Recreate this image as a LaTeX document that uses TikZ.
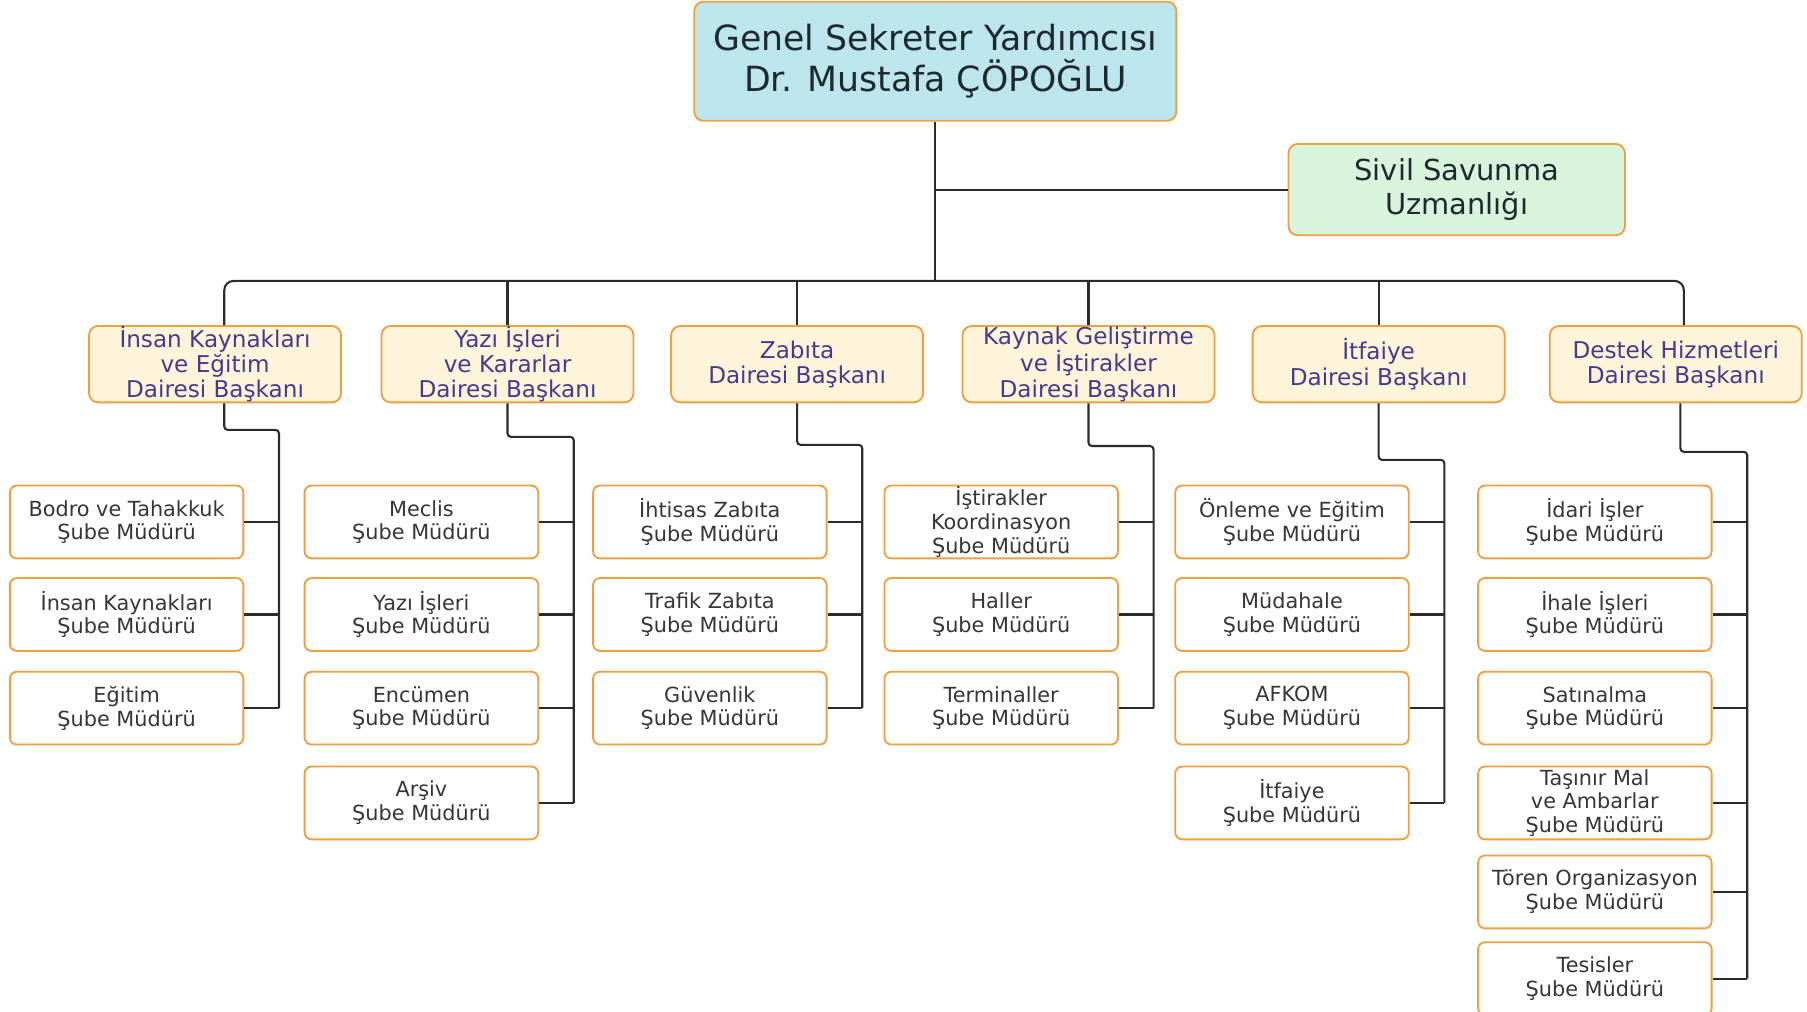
\documentclass[tikz,border=0pt]{standalone}
\usepackage{fontspec}
\setmainfont{DejaVu Sans}
\usetikzlibrary{positioning}
\definecolor{boxorange}{HTML}{EE9F3F}
\definecolor{topfill}{HTML}{BDE5EE}
\definecolor{greenfill}{HTML}{D9F4DC}
\definecolor{deptfill}{HTML}{FEF4DA}
\definecolor{headtext}{HTML}{1C2A2E}
\definecolor{depttext}{HTML}{473A8E}
\definecolor{subtext}{HTML}{363636}
\definecolor{linegray}{HTML}{2B2B2B}

\begin{document}
\begin{tikzpicture}[x=1pt, y=-1pt,
every node/.style={draw=boxorange, line width=1.6pt, rounded corners=8pt,
align=center, inner sep=0pt},
headbox/.style={fill=topfill, minimum width=417pt, minimum height=103pt,
text=headtext, font=\fontsize{30}{35}\selectfont},
advbox/.style={fill=greenfill, minimum width=291pt, minimum height=79pt,
text=headtext, font=\fontsize{25}{29}\selectfont},
deptbox/.style={fill=deptfill, minimum width=218pt, minimum height=66pt,
text=depttext, font=\fontsize{20}{22}\selectfont},
subbox/.style={fill=white, minimum width=202pt, minimum height=63pt,
rounded corners=6pt, text=subtext, font=\fontsize{18}{20.5}\selectfont},
conn/.style={draw=linegray, line width=1.8pt}]
\useasboundingbox (2,0) rectangle (1565,875);

% ust kademe
\node[headbox] (gsy) at (811,53) {Genel Sekreter Yardımcısı\\Dr. Mustafa ÇÖPOĞLU};
\node[advbox] (ssu) at (1262,164) {Sivil Savunma\\Uzmanlığı};
\coordinate (bus) at (811,243);

% daire baskanliklari
\foreach \x/\lab [count=\d] in {188/{İnsan Kaynakları\\ve Eğitim},
441/{Yazı İşleri\\ve Kararlar}, 691.5/Zabıta,
943.5/{Kaynak Geliştirme\\ve İştirakler}, 1194.5/İtfaiye,
1451.5/Destek Hizmetleri}{
\node[deptbox] (d\d) at (\x,315) {\lab\\Dairesi Başkanı};}

% sube mudurlukleri
\foreach \c/\x/\labs in {1/111.5/{{Bodro ve Tahakkuk},{İnsan Kaynakları},{Eğitim}},
2/366.5/{{Meclis},{Yazı İşleri},{Encümen},{Arşiv}},
3/616/{{İhtisas Zabıta},{Trafik Zabıta},{Güvenlik}},
4/868/{{İştirakler\\Koordinasyon},{Haller},{Terminaller}},
5/1119.5/{{Önleme ve Eğitim},{Müdahale},{AFKOM},{İtfaiye}},
6/1381.5/{{İdari İşler},{İhale İşleri},{Satınalma},{Taşınır Mal\\ve Ambarlar},
{Tören Organizasyon},{Tesisler}}}{
\foreach \lab [count=\r] in \labs {
\pgfmathsetmacro\yy{{451.5,531.5,612.5,694.5,771.5,846.5}[\r-1]}
\node[subbox] (c\c-\r) at (\x,\yy) {\lab\\Şube Müdürü};
\draw[conn] (c\c-\r.east) -- ++(30,0);}}

% baglantilar
\draw[conn] (gsy.south) -- (bus);
\draw[conn] (ssu.west) -- (ssu.west -| gsy.south);
\draw[conn, rounded corners=8pt] ([xshift=8pt]d1.north) |- (bus) -| ([xshift=7pt]d6.north);
\foreach \d in {2,...,5}{
\draw[conn] (d\d.north) -- (d\d.north |- bus);}
\foreach \d/\n/\t/\s in {1/3/23/8, 2/4/29/0, 3/3/36/0, 4/3/37/0, 5/4/49/0, 6/6/42/4}{
\draw[conn, rounded corners=3pt] ([xshift=\s pt]d\d.south) -- ++(0,\t)
-| ([xshift=30pt]c\d-\n.east);}
\end{tikzpicture}
\end{document}
